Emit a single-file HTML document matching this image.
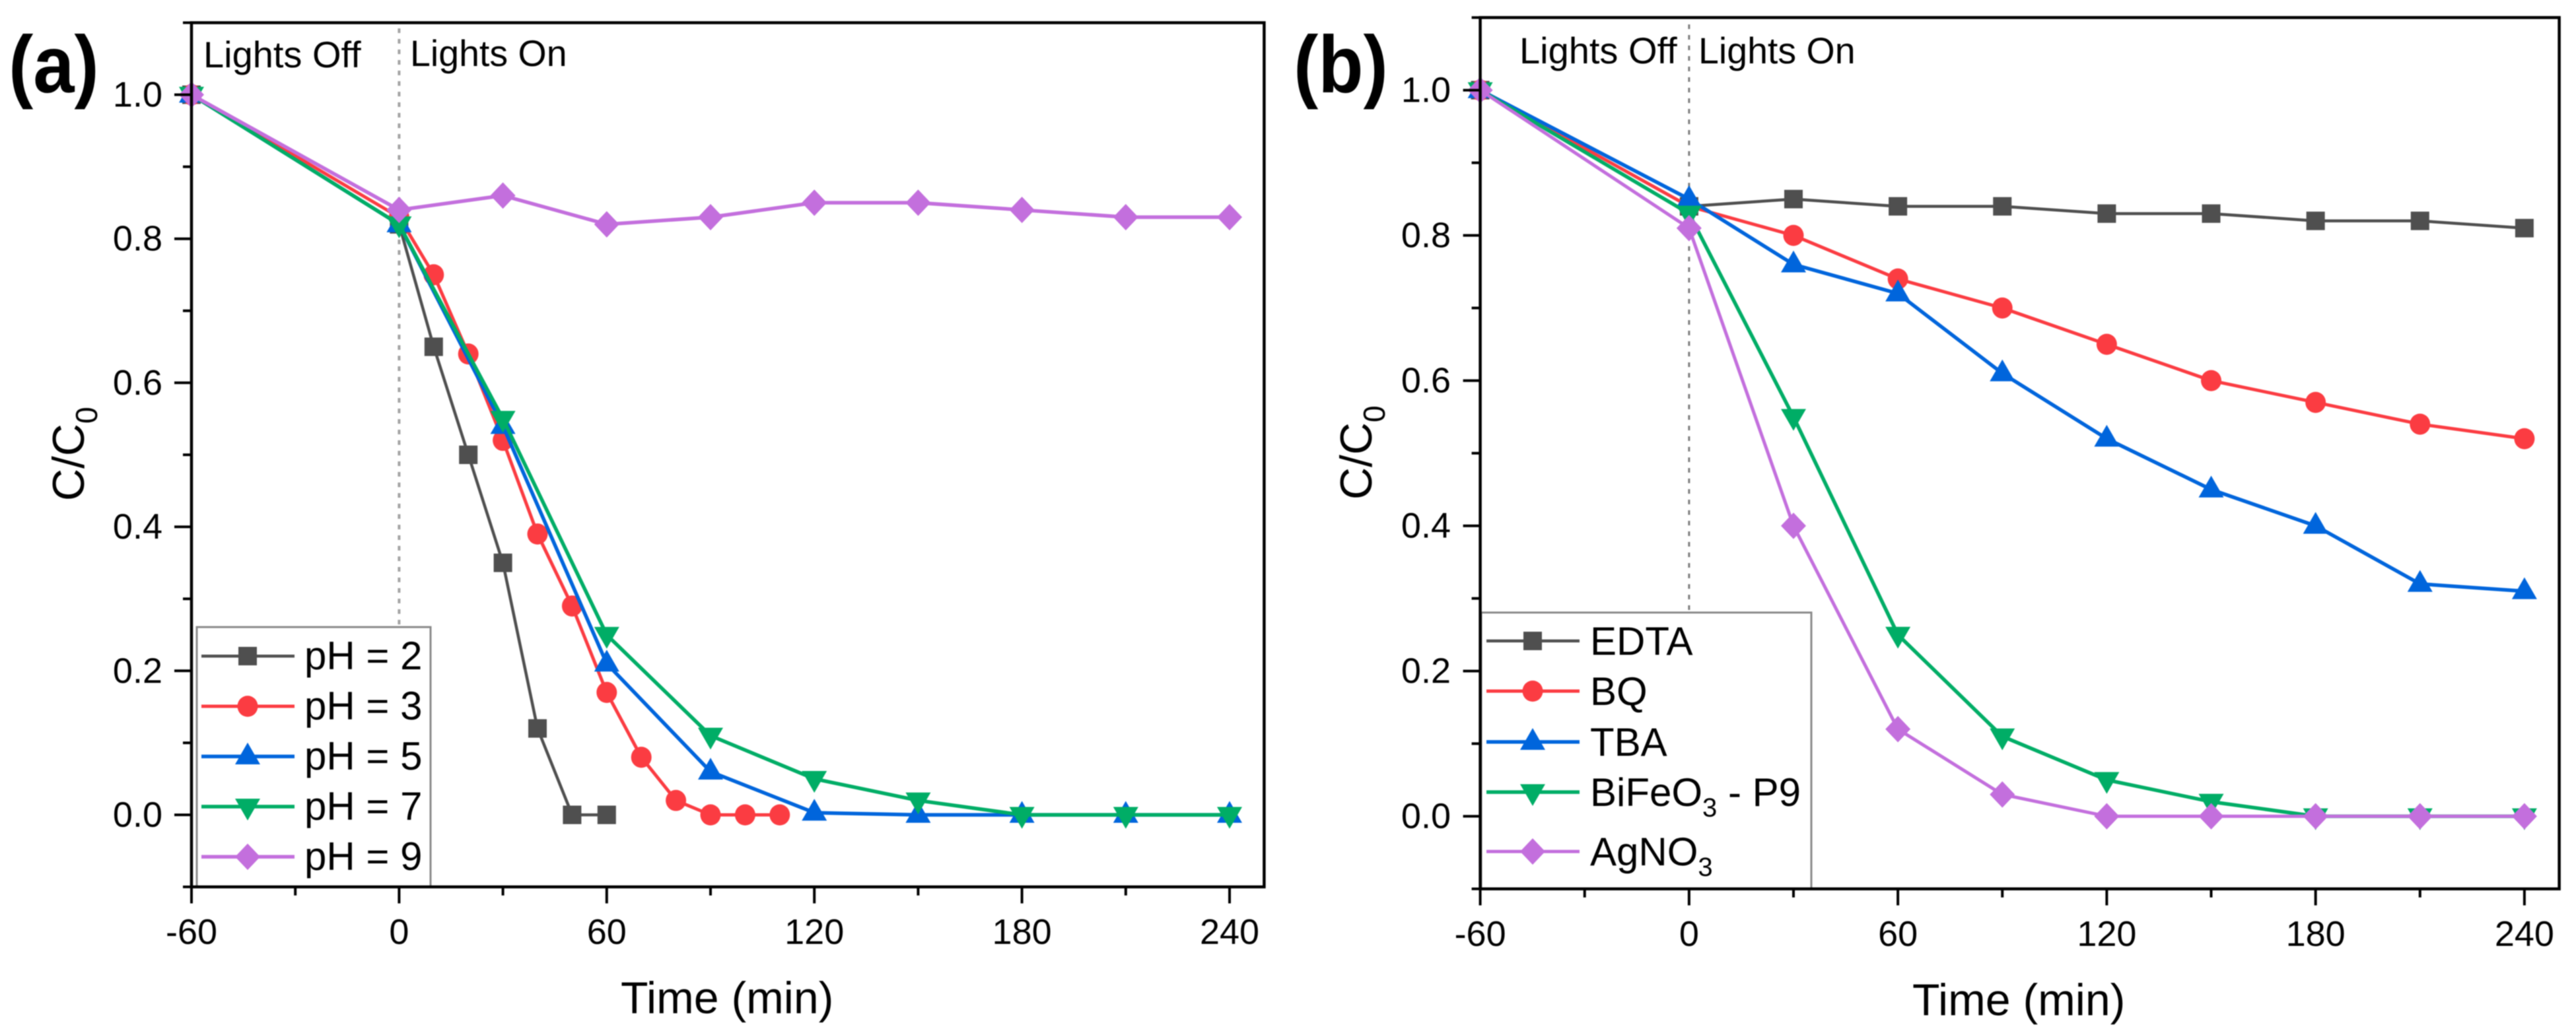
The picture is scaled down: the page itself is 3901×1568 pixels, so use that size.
<!DOCTYPE html>
<html lang="en">
<head>
<meta charset="utf-8">
<title>C/C0 versus time for pH and scavenger series</title>
<style>
html,body{margin:0;padding:0;background:#fff;width:3901px;height:1568px;overflow:hidden}
svg{display:block;filter:blur(0.8px)}
text{font-family:"Liberation Sans",sans-serif;fill:#000}
</style>
</head>
<body>
<svg id="figure" xmlns="http://www.w3.org/2000/svg" width="3901" height="1568" viewBox="0 0 3901 1568"></svg>
<script>
/* ---------- shared axis labels ---------- */
const xTickValues = [-60, -30, 0, 30, 60, 90, 120, 150, 180, 210, 240];
const xTickLabels = ["-60", "", "0", "", "60", "", "120", "", "180", "", "240"];
const yTickValues = [-0.1, 0, 0.1, 0.2, 0.3, 0.4, 0.5, 0.6, 0.7, 0.8, 0.9, 1.0, 1.1];
const yTickLabels = ["", "0.0", "", "0.2", "", "0.4", "", "0.6", "", "0.8", "", "1.0", ""];

/* ---------- panel (a) values ---------- */
const timeFine2 = [-60, 0, 10, 20, 30, 40, 50, 60];
const timeFine3 = [-60, 0, 10, 20, 30, 40, 50, 60, 70, 80, 90, 100, 110];
const timeCoarse = [-60, 0, 30, 60, 90, 120, 150, 180, 210, 240];
const valuesPH2 = [1.0, 0.82, 0.65, 0.50, 0.35, 0.12, 0, 0];
const valuesPH3 = [1.0, 0.83, 0.75, 0.64, 0.52, 0.39, 0.29, 0.17, 0.08, 0.02, 0, 0, 0];
const valuesPH5 = [1.0, 0.82, 0.54, 0.21, 0.06, 0.003, 0, 0, 0, 0];
const valuesPH7 = [1.0, 0.82, 0.55, 0.25, 0.11, 0.05, 0.02, 0, 0, 0];
const valuesPH9 = [1.0, 0.84, 0.86, 0.82, 0.83, 0.85, 0.85, 0.84, 0.83, 0.83];

/* ---------- panel (b) values ---------- */
const valuesEDTA = [1.0, 0.84, 0.85, 0.84, 0.84, 0.83, 0.83, 0.82, 0.82, 0.81];
const valuesBQ = [1.0, 0.84, 0.80, 0.74, 0.70, 0.65, 0.60, 0.57, 0.54, 0.52];
const valuesTBA = [1.0, 0.85, 0.76, 0.72, 0.61, 0.52, 0.45, 0.40, 0.32, 0.31];
const valuesBiFeO3 = [1.0, 0.83, 0.55, 0.25, 0.11, 0.05, 0.02, 0, 0, 0];
const valuesAgNO3 = [1.0, 0.81, 0.40, 0.12, 0.03, 0, 0, 0, 0, 0];

const GRAY = "#4f4f4f", RED = "#fb3c42", BLUE = "#0065dc", GREEN = "#00ad66", PURPLE = "#c36fdd";
const NS = "http://www.w3.org/2000/svg";
const svg = document.getElementById("figure");

function make(tag, attrs, parent) {
  const el = document.createElementNS(NS, tag);
  for (const k in attrs) el.setAttribute(k, attrs[k]);
  (parent || svg).appendChild(el);
  return el;
}

function markerPoints(kind, x, y) {
  if (kind === "triangle") return `${x},${y - 21} ${x + 19},${y + 12} ${x - 19},${y + 12}`;
  if (kind === "inverted") return `${x},${y + 21} ${x + 19},${y - 12} ${x - 19},${y - 12}`;
  return `${x},${y - 20} ${x + 19},${y} ${x},${y + 20} ${x - 19},${y}`;
}

function drawMarker(kind, x, y, color, parent, name) {
  let el;
  if (kind === "square") el = make("rect", { x: x - 14, y: y - 14, width: 28, height: 28, fill: color }, parent);
  else if (kind === "circle") el = make("ellipse", { cx: x, cy: y, rx: 15.5, ry: 16, fill: color }, parent);
  else el = make("polygon", { points: markerPoints(kind, x, y), fill: color }, parent);
  
  
}

function drawLabel(parent, x, y, size, parts) {
  const t = make("text", { x: x, y: y, "font-size": size }, parent);
  parts.forEach(function (p) {
    const s = make("tspan", {}, t);
    if (p.sub) { s.setAttribute("font-size", 40); s.setAttribute("dy", 16); }
    else if (p.after) { s.setAttribute("dy", -16); }
    s.textContent = p.text;
  });
  return t;
}

function drawPanel(cfg) {
  const xAt = function (v) { return cfg.x0 + (v + 60) * cfg.xScale; };
  const yAt = function (v) { return cfg.yZero - v * cfg.yScale; };

  const group = make("g", {});
  
  

  const left = xAt(-60), right = xAt(250), top = yAt(1.1), bottom = yAt(-0.1);

  const divider = make("line", { x1: xAt(0), x2: xAt(0), y1: cfg.dashTop, y2: cfg.legend.top, stroke: cfg.dashColor, "stroke-width": cfg.dashWidth, "stroke-dasharray": "7 9" }, group);
  
  

  cfg.series.forEach(function (s) {
    const pts = s.x.map(function (t, i) { return xAt(t) + "," + yAt(s.y[i]); }).join(" ");
    const line = make("polyline", { points: pts, fill: "none", stroke: s.color, "stroke-width": s.width, "stroke-linejoin": "round" }, group);
    
    
    s.x.forEach(function (t, i) {
      drawMarker(s.marker, xAt(t), yAt(s.y[i]), s.color, group, s.key + '-point');
    });
  });

  /* legend */
  const lg = cfg.legend;
  const legend = make("g", {}, group);
  
  
  const box = make("rect", { x: lg.left, y: lg.top, width: lg.right - lg.left, height: bottom - lg.top, fill: "#fff", stroke: "#8a8a8a", "stroke-width": 3 }, legend);
  
  
  cfg.series.forEach(function (s, i) {
    const ly = lg.rows[i];
    const entry = make("g", {}, legend);
    
    
    make("line", { x1: lg.lineStart, x2: lg.lineStart + 141, y1: ly, y2: ly, stroke: s.color, "stroke-width": s.width }, entry);
    drawMarker(s.marker, lg.lineStart + 70, ly, s.color, entry, 'legend-marker');
    const label = drawLabel(entry, lg.textX, ly + lg.baseline, 60, s.label);
    
    
  });

  /* frame and ticks */
  const frame = make("rect", { x: left, y: top, width: right - left, height: bottom - top, fill: "none", stroke: "#000", "stroke-width": 4.5 }, group);
  
  

  xTickValues.forEach(function (v, i) {
    const major = xTickLabels[i] !== "";
    const tick = make("line", { x1: xAt(v), x2: xAt(v), y1: bottom, y2: bottom + (major ? 25 : 13), stroke: "#000", "stroke-width": 4 }, group);
    
    
    if (major) {
      const t = make("text", { x: xAt(v), y: cfg.xLabelY, "font-size": 54, "text-anchor": "middle" }, group);
      t.textContent = xTickLabels[i];
      
      
    }
  });
  yTickValues.forEach(function (v, i) {
    const major = yTickLabels[i] !== "";
    const tick = make("line", { x1: left - (major ? 26 : 13), x2: left, y1: yAt(v), y2: yAt(v), stroke: "#000", "stroke-width": 4 }, group);
    
    
    if (major) {
      const t = make("text", { x: cfg.yLabelX, y: yAt(v) + 18, "font-size": 54, "text-anchor": "end" }, group);
      t.textContent = yTickLabels[i];
      
      
    }
  });

  /* annotations and titles */
  const off = make("text", { x: cfg.offX, y: cfg.offY, "font-size": 56 }, group);
  off.textContent = "Lights Off";
  
  
  const on = make("text", { x: cfg.onX, y: cfg.onY, "font-size": 55.5 }, group);
  on.textContent = "Lights On";
  
  

  const xTitle = make("text", { x: cfg.xTitleX, y: cfg.xTitleY, "font-size": 68 }, group);
  xTitle.textContent = "Time (min)";
  
  

  const yTitle = make("text", { transform: `translate(${cfg.yTitleX},${cfg.yTitleY}) rotate(-90)`, "font-size": 68 }, group);
  const main = make("tspan", {}, yTitle);
  main.textContent = "C/C";
  const sub = make("tspan", { "font-size": 46, dy: 20 }, yTitle);
  sub.textContent = "0";
  
  

  const letter = make("text", { transform: `translate(${cfg.letterX},140) scale(0.91,1)`, "font-size": 123, "font-weight": "bold" }, group);
  letter.textContent = cfg.letter;
  
  
}

drawPanel({
  id: "a", letter: "(a)", letterX: 13,
  x0: 290, xScale: 5.24, yZero: 1234.5, yScale: 1091,
  dashTop: 43, dashColor: "#a3a3a3", dashWidth: 4,
  xLabelY: 1430, yLabelX: 246,
  offX: 308, offY: 102, onX: 621, onY: 100,
  xTitleX: 940, xTitleY: 1535, yTitleX: 127, yTitleY: 759,
  legend: { left: 298, right: 652, top: 950, rows: [994, 1070, 1146, 1222, 1298], lineStart: 305, textX: 461, baseline: 20 },
  series: [
    { key: "ph-2", x: timeFine2, y: valuesPH2, color: GRAY, marker: "square", width: 4.5, label: [{ text: "pH = 2" }] },
    { key: "ph-3", x: timeFine3, y: valuesPH3, color: RED, marker: "circle", width: 5, label: [{ text: "pH = 3" }] },
    { key: "ph-5", x: timeCoarse, y: valuesPH5, color: BLUE, marker: "triangle", width: 5.5, label: [{ text: "pH = 5" }] },
    { key: "ph-7", x: timeCoarse, y: valuesPH7, color: GREEN, marker: "inverted", width: 5.5, label: [{ text: "pH = 7" }] },
    { key: "ph-9", x: timeCoarse, y: valuesPH9, color: PURPLE, marker: "diamond", width: 5.5, label: [{ text: "pH = 9" }] }
  ]
});

drawPanel({
  id: "b", letter: "(b)", letterX: 1959,
  x0: 2241.6, xScale: 5.271, yZero: 1236.6, yScale: 1100,
  dashTop: 37, dashColor: "#7c7c7c", dashWidth: 3,
  xLabelY: 1433, yLabelX: 2197,
  offX: 2301, offY: 96, onX: 2572, onY: 96,
  xTitleX: 2896, xTitleY: 1538, yTitleX: 2077, yTitleY: 757,
  legend: { left: 2243, right: 2743, top: 928, rows: [971, 1047, 1124, 1200, 1290], lineStart: 2251, textX: 2408, baseline: 21 },
  series: [
    { key: "edta", x: timeCoarse, y: valuesEDTA, color: GRAY, marker: "square", width: 4.5, label: [{ text: "EDTA" }] },
    { key: "bq", x: timeCoarse, y: valuesBQ, color: RED, marker: "circle", width: 5, label: [{ text: "BQ" }] },
    { key: "tba", x: timeCoarse, y: valuesTBA, color: BLUE, marker: "triangle", width: 5.5, label: [{ text: "TBA" }] },
    { key: "bifeo3", x: timeCoarse, y: valuesBiFeO3, color: GREEN, marker: "inverted", width: 5.5, label: [{ text: "BiFeO" }, { text: "3", sub: true }, { text: " - P9", after: true }] },
    { key: "agno3", x: timeCoarse, y: valuesAgNO3, color: PURPLE, marker: "diamond", width: 5, label: [{ text: "AgNO" }, { text: "3", sub: true }] }
  ]
});
</script>
</body>
</html>
